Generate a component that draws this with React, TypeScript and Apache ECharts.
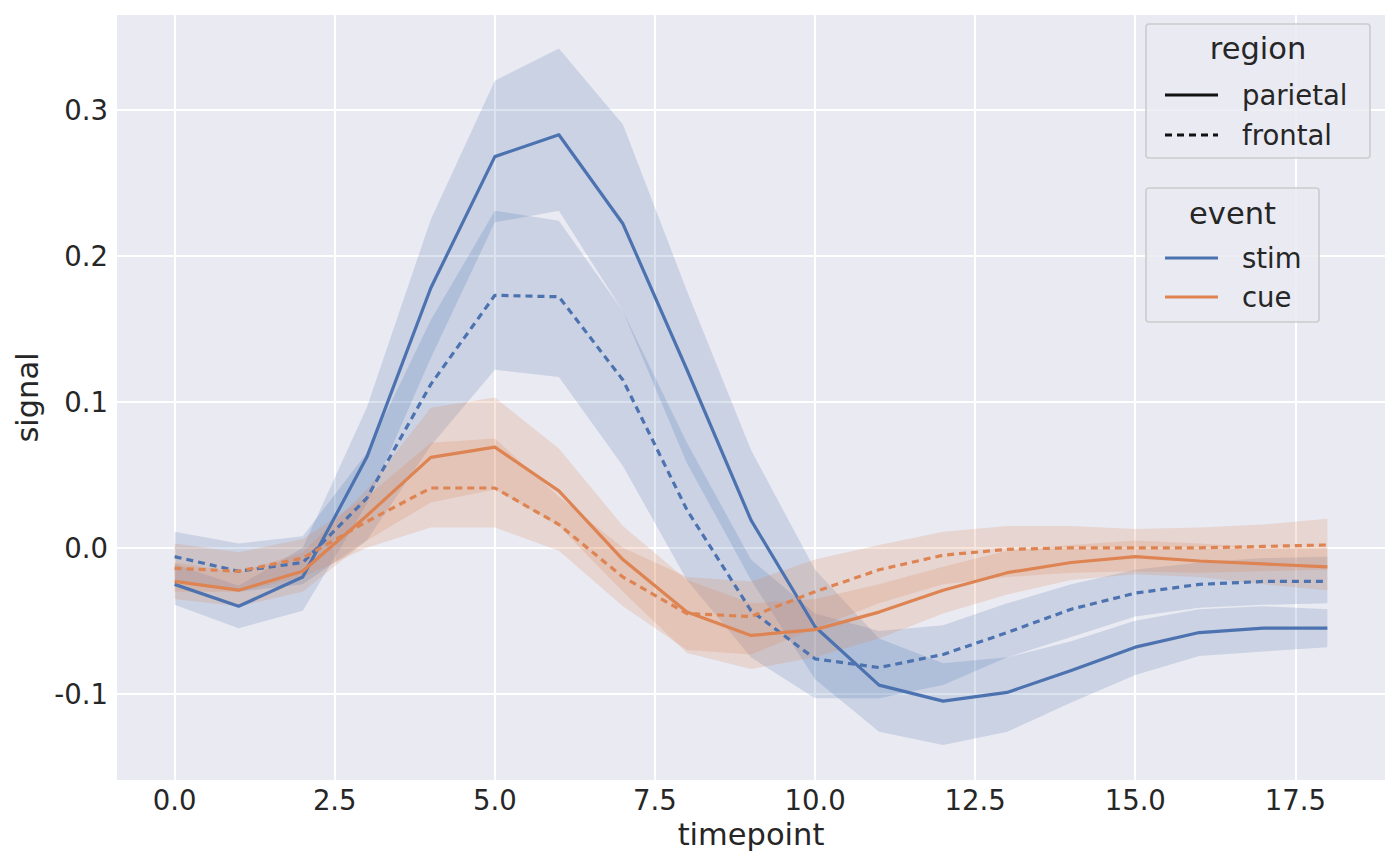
import React, { useEffect, useRef } from "react";
import * as echarts from "echarts";

const timepoints = [0, 1, 2, 3, 4, 5, 6, 7, 8, 9, 10, 11, 12, 13, 14, 15, 16, 17, 18];
const xTicks = [0, 2.5, 5, 7.5, 10, 12.5, 15, 17.5];
const yTicks = [-0.1, 0, 0.1, 0.2, 0.3];

const stimParietal = [-0.025, -0.040, -0.020, 0.062, 0.178, 0.268, 0.283, 0.222, 0.122, 0.019, -0.054, -0.094, -0.105, -0.099, -0.084, -0.068, -0.058, -0.055, -0.055];
const stimParietalLo = [-0.039, -0.055, -0.043, 0.030, 0.130, 0.223, 0.231, 0.162, 0.058, -0.022, -0.090, -0.126, -0.135, -0.126, -0.106, -0.087, -0.074, -0.071, -0.068];
const stimParietalHi = [-0.011, -0.026, 0.000, 0.096, 0.225, 0.320, 0.342, 0.290, 0.176, 0.067, -0.015, -0.062, -0.079, -0.075, -0.064, -0.050, -0.042, -0.040, -0.042];

const stimFrontal = [-0.006, -0.016, -0.010, 0.034, 0.112, 0.173, 0.172, 0.115, 0.026, -0.043, -0.076, -0.082, -0.073, -0.058, -0.042, -0.031, -0.025, -0.023, -0.023];
const stimFrontalLo = [-0.022, -0.030, -0.025, 0.005, 0.070, 0.122, 0.117, 0.056, -0.022, -0.075, -0.103, -0.103, -0.094, -0.075, -0.061, -0.047, -0.041, -0.039, -0.038];
const stimFrontalHi = [0.011, 0.003, 0.008, 0.065, 0.156, 0.231, 0.224, 0.162, 0.072, -0.008, -0.045, -0.057, -0.053, -0.038, -0.025, -0.015, -0.010, -0.007, -0.006];

const cueParietal = [-0.023, -0.029, -0.016, 0.022, 0.062, 0.069, 0.039, -0.008, -0.044, -0.060, -0.056, -0.044, -0.029, -0.017, -0.010, -0.006, -0.009, -0.011, -0.013];
const cueParietalLo = [-0.035, -0.040, -0.030, 0.005, 0.031, 0.040, 0.015, -0.030, -0.072, -0.083, -0.075, -0.062, -0.045, -0.032, -0.022, -0.018, -0.020, -0.025, -0.029];
const cueParietalHi = [-0.010, -0.017, -0.003, 0.040, 0.096, 0.103, 0.068, 0.015, -0.022, -0.038, -0.035, -0.025, -0.013, -0.002, 0.002, 0.005, 0.003, 0.000, 0.000];

const cueFrontal = [-0.014, -0.016, -0.007, 0.018, 0.041, 0.041, 0.016, -0.020, -0.045, -0.047, -0.030, -0.015, -0.005, -0.001, 0.000, 0.000, 0.000, 0.001, 0.002];
const cueFrontalLo = [-0.030, -0.030, -0.020, 0.000, 0.014, 0.014, -0.002, -0.040, -0.070, -0.073, -0.055, -0.038, -0.025, -0.020, -0.017, -0.016, -0.017, -0.016, -0.015];
const cueFrontalHi = [0.003, -0.003, 0.006, 0.035, 0.072, 0.075, 0.035, 0.000, -0.020, -0.023, -0.008, 0.002, 0.011, 0.015, 0.015, 0.013, 0.014, 0.016, 0.020];

const BLUE = "#4c72b0";
const ORANGE = "#dd8452";
const TEXT = "#262626";
const FONT = "DejaVu Sans";
const LW = 3.2;
const DASH = [7, 5];

function band(lo: number[], hi: number[], fill: string) {
  return {
    type: "custom",
    coordinateSystem: "cartesian2d",
    silent: true,
    z: 1,
    data: timepoints.map((t, i) => [t, lo[i], hi[i]]),
    encode: { x: 0, y: [1, 2] },
    renderItem: (params: any, api: any) => {
      if (params.dataIndex !== 0) return { type: "group", children: [] };
      const pts: number[][] = [];
      for (let i = 0; i < timepoints.length; i++) pts.push(api.coord([timepoints[i], hi[i]]));
      for (let i = timepoints.length - 1; i >= 0; i--) pts.push(api.coord([timepoints[i], lo[i]]));
      return { type: "polygon", shape: { points: pts }, style: { fill } };
    },
  };
}

function line(values: number[], color: string, dashed: boolean) {
  return {
    type: "line",
    z: 3,
    showSymbol: false,
    symbol: "none",
    silent: true,
    data: timepoints.map((t, i) => [t, values[i]]),
    lineStyle: { color, width: LW, type: dashed ? DASH : "solid", cap: "butt", join: "round" },
  };
}

function legendBox(x: number, y: number, w: number, h: number, title: string, titleY: number, items: { label: string; color: string; dashed: boolean; y: number }[]) {
  const Z = 100;
  const els: any[] = [
    {
      type: "rect",
      z: Z,
      shape: { x, y, width: w, height: h, r: 3 },
      style: { fill: "rgba(234,234,242,0.8)", stroke: "#cccccc", lineWidth: 1.6 },
    },
    {
      type: "text",
      z: Z + 1,
      x: x + w / 2,
      y: titleY,
      style: { text: title, fontFamily: FONT, fontSize: 30.5, fill: TEXT, align: "center", verticalAlign: "middle" },
    },
  ];
  items.forEach((it) => {
    els.push({
      type: "line",
      z: Z + 1,
      shape: { x1: x + 19, y1: it.y, x2: x + 72, y2: it.y },
      style: { stroke: it.color, lineWidth: LW, lineDash: it.dashed ? DASH : null },
    });
    els.push({
      type: "text",
      z: Z + 1,
      x: x + 96,
      y: it.y,
      style: { text: it.label, fontFamily: FONT, fontSize: 27.5, fill: TEXT, align: "left", verticalAlign: "middle" },
    });
  });
  return els;
}

export default function App() {
  const ref = useRef<HTMLDivElement>(null);
  useEffect(() => {
    if (!ref.current) return;
    const chart = echarts.init(ref.current, undefined, { renderer: "svg" });
    chart.setOption({
      animation: false,
      backgroundColor: "#ffffff",
      textStyle: { fontFamily: FONT },
      grid: { left: 117, right: 15, top: 15, bottom: 86, backgroundColor: "#eaeaf2", show: true, borderWidth: 0 },
      xAxis: {
        type: "value",
        min: -0.9,
        max: 18.9,
        name: "timepoint",
        nameLocation: "middle",
        nameGap: 37,
        nameTextStyle: { fontFamily: FONT, fontSize: 30.5, color: TEXT },
        axisLine: { show: false },
        axisTick: { show: false, customValues: xTicks },
        axisLabel: {
          customValues: xTicks,
          formatter: (v: number) => v.toFixed(1),
          fontFamily: FONT,
          fontSize: 27.5,
          color: TEXT,
          margin: 6,
        },
        splitLine: { show: true, lineStyle: { color: "#ffffff", width: 2 } },
      },
      yAxis: {
        type: "value",
        min: -0.159,
        max: 0.365,
        name: "signal",
        nameLocation: "middle",
        nameGap: 71,
        nameTextStyle: { fontFamily: FONT, fontSize: 30.5, color: TEXT },
        axisLine: { show: false },
        axisTick: { show: false, customValues: yTicks },
        axisLabel: {
          customValues: yTicks,
          formatter: (v: number) => v.toFixed(1),
          fontFamily: FONT,
          fontSize: 27.5,
          color: TEXT,
          margin: 9,
        },
        splitLine: { show: true, lineStyle: { color: "#ffffff", width: 2 } },
      },
      series: [
        band(stimParietalLo, stimParietalHi, "rgba(76,114,176,0.2)"),
        band(stimFrontalLo, stimFrontalHi, "rgba(76,114,176,0.2)"),
        band(cueParietalLo, cueParietalHi, "rgba(221,132,82,0.2)"),
        band(cueFrontalLo, cueFrontalHi, "rgba(221,132,82,0.2)"),
        line(stimParietal, BLUE, false),
        line(stimFrontal, BLUE, true),
        line(cueParietal, ORANGE, false),
        line(cueFrontal, ORANGE, true),
      ],
      graphic: [
        ...legendBox(1146, 24, 224, 134, "region", 48, [
          { label: "parietal", color: "#111111", dashed: false, y: 95 },
          { label: "frontal", color: "#111111", dashed: true, y: 135 },
        ]),
        ...legendBox(1146, 188, 173, 134, "event", 213, [
          { label: "stim", color: BLUE, dashed: false, y: 258 },
          { label: "cue", color: ORANGE, dashed: false, y: 297 },
        ]),
      ],
    });
    return () => chart.dispose();
  }, []);
  return <div ref={ref} style={{ position: "fixed", left: 0, top: 0, width: 1400, height: 866 }} />;
}
